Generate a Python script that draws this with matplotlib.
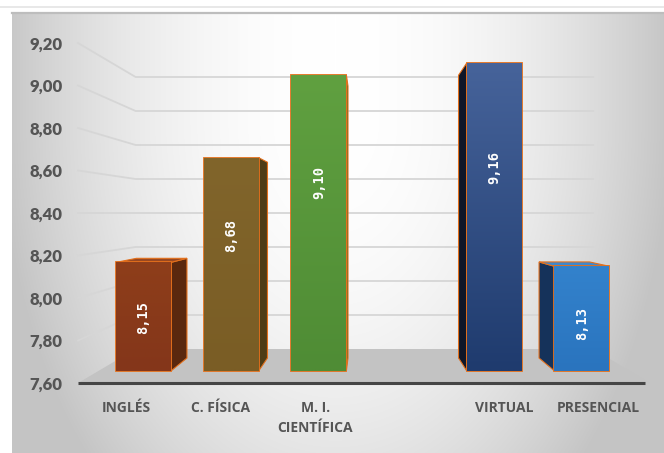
import numpy as np
import matplotlib
matplotlib.use("Agg")
import matplotlib.pyplot as plt
from matplotlib.patches import Polygon
from matplotlib.colors import to_rgb

# ---------------- data ----------------
categories = ["INGLÉS", "C. FÍSICA", "M. I.\nCIENTÍFICA", "VIRTUAL", "PRESENCIAL"]
positions = [0, 1, 2, 4, 5]
values = [8.15, 8.68, 9.10, 9.16, 8.13]
value_labels = ["8,15", "8,68", "9,10", "9,16", "8,13"]
label_heights = [7.873, 8.288, 8.552, 8.633, 7.838]   # where the value text sits
yticks = [7.60, 7.80, 8.00, 8.20, 8.40, 8.60, 8.80, 9.00, 9.20]

front_colors = ["#8a3a17", "#7e6128", "#5a9a3c", "#324f86", "#2e7bc6"]
top_colors = ["#9a4820", "#8c6e32", "#66a646", "#4a669a", "#3c88cf"]
side_colors = ["#5a280e", "#4e3c16", "#3e6e28", "#0f1628", "#15325a"]
grad_top = ["#8e3e1a", "#81652b", "#60a040", "#46639a", "#3382cc"]
grad_bot = ["#84361a", "#7a5d25", "#4f8c35", "#1f3b6e", "#2a74be"]
edge = "#e3701c"

BASE = 7.60
W, H = 664, 453
XL, XR = -0.514, 5.546
VX, VY = 2.537, 8.40          # vanishing point (data coords)
S1, S2, S3 = 0.929, 0.853, 0.80  # depth scale: bar front, bar back, back wall


def proj(x, v, s):
    return (VX + (x - VX) * s, VY + (v - VY) * s)


fig = plt.figure(figsize=(W / 100, H / 100), dpi=100)

# ---------------- background ----------------
bg = fig.add_axes([0, 0, 1, 1])
bg.set_xlim(0, W)
bg.set_ylim(H, 0)
bg.axis("off")
yy, xx = np.mgrid[12:H, 12:W]
g = 1 - 0.21 * ((xx - 335) / 320.0) ** 2 - 0.10 * (np.clip(yy - 120, 0, None) / 330.0) ** 2
g = np.clip(g, 0.77, 1.0)
bg.imshow(np.dstack([g, g, g]), extent=(12, W, H, 12), interpolation="bilinear", aspect="auto")
bg.plot([0, W], [7, 7], color="#e4e4e4", lw=1.2)
bg.plot([12, W], [12.5, 12.5], color="#bdbdbd", lw=1.6)

# ---------------- main axes ----------------
ax = fig.add_axes([78 / W, (H - 383) / H, 572 / W, 340 / H])
ax.patch.set_alpha(0)
ax.set_xlim(XL, XR)
ax.set_ylim(7.60, 9.20)
for sp in ax.spines.values():
    sp.set_visible(False)

# perspective gridlines (left wall + back wall)
for t in yticks[1:]:
    p1 = proj(XL, t, S3)
    p2 = proj(XR, t, S3)
    ax.plot([XL, p1[0], p2[0]], [t, p1[1], p2[1]], color="#d6d6d6", lw=1.3,
            clip_on=False, zorder=1)

# floor
fl = [(XL, BASE), (XR, BASE), proj(XR, BASE, S3), proj(XL, BASE, S3)]
ax.add_patch(Polygon(fl, closed=True, facecolor="#c3c3c3", edgecolor="none",
                     clip_on=False, zorder=2))
ax.plot([XL, XR - 0.05], [BASE, BASE], color="#454545", lw=2.2, clip_on=False,
        zorder=3, solid_capstyle="butt")

bw = 0.627
for i, (p, v) in enumerate(zip(positions, values)):
    xl_b, xr_b = p - bw / 2, p + bw / 2
    # side face
    sx = xr_b if p < VX else xl_b
    side = [proj(sx, BASE, S1), proj(sx, v, S1), proj(sx, v, S2), proj(sx, BASE, S2)]
    ax.add_patch(Polygon(side, closed=True, facecolor=side_colors[i], edgecolor=edge,
                         lw=0.8, clip_on=False, zorder=4))
    # top face (visible only below eye level)
    if v < VY:
        top = [proj(xl_b, v, S1), proj(xr_b, v, S1), proj(xr_b, v, S2), proj(xl_b, v, S2)]
        ax.add_patch(Polygon(top, closed=True, facecolor=top_colors[i], edgecolor=edge,
                             lw=0.8, clip_on=False, zorder=4))
    # front face
    fx = proj(p, BASE, S1)[0]
    fb = proj(p, BASE, S1)[1]
    ft = proj(p, v, S1)[1]
    bars = ax.bar([fx], [ft - fb], bottom=[fb], width=bw * S1, color=front_colors[i],
                  edgecolor=edge, linewidth=1.3, zorder=5, clip_on=False)
    rect = bars.patches[0]
    c1, c2 = np.array(to_rgb(grad_top[i])), np.array(to_rgb(grad_bot[i]))
    tt = np.linspace(0, 1, 64)[:, None]
    img = (c1[None, :] * (1 - tt) + c2[None, :] * tt)[:, None, :]
    im = ax.imshow(img, extent=(fx - bw * S1 / 2, fx + bw * S1 / 2, fb, ft), aspect="auto",
                   zorder=5.1, interpolation="bilinear", origin="upper")
    im.set_clip_path(rect)
    ax.add_patch(Polygon(rect.get_verts(), closed=True, facecolor="none", edgecolor=edge,
                         lw=1.3, zorder=5.2, clip_on=False))
    ly = proj(p, label_heights[i], S1)[1]
    ax.text(fx, ly, value_labels[i], rotation=90, ha="center", va="center", color="white",
            fontsize=9.8, fontweight="bold", family="DejaVu Sans Mono", zorder=6)

ax.set_xlim(XL, XR)
ax.set_ylim(7.60, 9.20)

ax.set_yticks(yticks)
ax.set_yticklabels([f"{t:.2f}".replace(".", ",") for t in yticks])
ax.set_xticks(positions)
ax.set_xticklabels(categories, linespacing=1.55)
ax.tick_params(axis="y", length=0, pad=11, labelsize=12, labelcolor="#555555")
ax.tick_params(axis="x", length=0, pad=13, labelsize=10, labelcolor="#555555")
for lab in ax.get_yticklabels():
    lab.set_fontfamily("Lato")
    lab.set_fontweight("heavy")
for lab in ax.get_xticklabels():
    lab.set_fontfamily("Open Sans")
    lab.set_fontweight("bold")

fig.savefig("out.png", dpi=100)
